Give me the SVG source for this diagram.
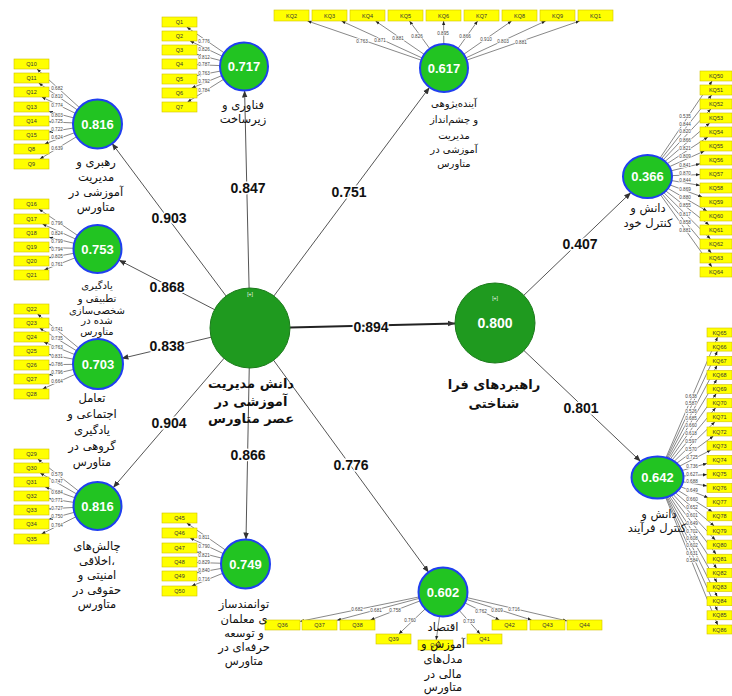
<svg xmlns="http://www.w3.org/2000/svg" width="732" height="696" viewBox="0 0 732 696">
<defs>
<marker id="am" viewBox="0 0 10 10" refX="10" refY="5" markerWidth="4" markerHeight="4" orient="auto" markerUnits="userSpaceOnUse"><path d="M0,1 L10,5 L0,9 z" fill="#222"/></marker>
<marker id="as" viewBox="0 0 10 10" refX="10" refY="5" markerWidth="7" markerHeight="7" orient="auto" markerUnits="userSpaceOnUse"><path d="M0,1 L10,5 L0,9 z" fill="#333"/></marker>
<style>
.ind rect{fill:#ffff00;stroke:#d2c200;stroke-width:0.6}
.ind text{font-family:"Liberation Sans",Arial,sans-serif;font-size:5.5px;fill:#333;text-anchor:middle}
.ml{stroke:#555;stroke-width:0.7;fill:none;marker-end:url(#am)}
.sl{stroke:#555;stroke-width:1;fill:none;marker-end:url(#as)}
.mn{stroke:#222;stroke-width:2;fill:none;marker-end:url(#as)}
.lw{font-family:"Liberation Sans",Arial,sans-serif;font-size:4.6px;fill:#444;text-anchor:middle;paint-order:stroke;stroke:#fff;stroke-width:1.6px}
.pw{font-family:"Liberation Sans",Arial,sans-serif;font-weight:bold;font-size:14px;fill:#111;text-anchor:middle;paint-order:stroke;stroke:#fff;stroke-width:3px}
.lv{fill:#22c422;stroke:#1f3ff0;stroke-width:2}
.cv{fill:#1f9a1f;stroke:#1a7a1a;stroke-width:1}
.val{font-family:"Liberation Sans",Arial,sans-serif;font-weight:bold;font-size:13px;fill:#fff;text-anchor:middle}
.val2{font-family:"Liberation Sans",Arial,sans-serif;font-weight:bold;font-size:14px;fill:#fff;text-anchor:middle}
.plus{font-family:"Liberation Sans",Arial,sans-serif;font-size:5px;fill:#fff;text-anchor:middle}
.lab{font-family:"DejaVu Sans","Noto Sans",sans-serif;font-size:11.5px;fill:#111;text-anchor:middle}
.lab2{font-family:"DejaVu Sans","Noto Sans",sans-serif;font-size:10px;fill:#111;text-anchor:middle}
.labb{font-family:"DejaVu Sans","Noto Sans",sans-serif;font-size:13px;font-weight:bold;fill:#111;text-anchor:middle}
</style>
</defs>
<rect width="732" height="696" fill="#fff"/>
<g id="connectors">
<!-- structural -->
<line class="sl" x1="250" y1="328" x2="244.6" y2="90.5"/>
<line class="sl" x1="250" y1="328" x2="429.6" y2="87.2"/>
<line class="sl" x1="250" y1="328" x2="111.9" y2="143.2"/>
<line class="sl" x1="250" y1="328" x2="118.8" y2="260"/>
<line class="sl" x1="250" y1="328" x2="121.4" y2="358.5"/>
<line class="sl" x1="250" y1="328" x2="113.1" y2="487.8"/>
<line class="sl" x1="250" y1="328" x2="246" y2="539.5"/>
<line class="sl" x1="250" y1="328" x2="428.8" y2="572.6"/>
<line class="mn" x1="290" y1="327.5" x2="455" y2="323.4"/>
<line class="sl" x1="523.8" y1="295.3" x2="631" y2="192.4"/>
<line class="sl" x1="524" y1="350.6" x2="640.7" y2="461.5"/>
<!-- measurement A -->
<path class="ml" d="M244,66.5L186.7,27"/><path class="ml" d="M244,66.5L190.1,41"/><path class="ml" d="M244,66.5L197,54.5"/><path class="ml" d="M244,66.5L197,64.7"/><path class="ml" d="M244,66.5L197,75.6"/><path class="ml" d="M244,66.5L191.7,88"/><path class="ml" d="M244,66.5L187.5,102"/>
<!-- top KQ -->
<path class="ml" d="M444,68L307.5,21"/><path class="ml" d="M444,68L341.5,21"/><path class="ml" d="M444,68L375.5,21"/><path class="ml" d="M444,68L409.5,21"/><path class="ml" d="M444,68L443.6,21"/><path class="ml" d="M444,68L477.6,21"/><path class="ml" d="M444,68L511.6,21"/><path class="ml" d="M444,68L545.6,21"/><path class="ml" d="M444,68L579.6,21"/>
<!-- B -->
<path class="ml" d="M97.5,124L37,69"/><path class="ml" d="M97.5,124L38.7,83"/><path class="ml" d="M97.5,124L41.8,97"/><path class="ml" d="M97.5,124L49,111.5"/><path class="ml" d="M97.5,124L49,121.8"/><path class="ml" d="M97.5,124L49,132.1"/><path class="ml" d="M97.5,124L44.7,144"/><path class="ml" d="M97.5,124L39.8,159"/>
<!-- C -->
<path class="ml" d="M97.5,249L38.8,209"/><path class="ml" d="M97.5,249L42.5,224"/><path class="ml" d="M97.5,249L49,237.2"/><path class="ml" d="M97.5,249L49,247.5"/><path class="ml" d="M97.5,249L49,257.8"/><path class="ml" d="M97.5,249L44.2,270"/>
<!-- D -->
<path class="ml" d="M98,364L37.5,314"/><path class="ml" d="M98,364L39.6,328"/><path class="ml" d="M98,364L43.8,342"/><path class="ml" d="M98,364L49,354.4"/><path class="ml" d="M98,364L49,364.7"/><path class="ml" d="M98,364L49,375"/><path class="ml" d="M98,364L42.6,389"/>
<!-- E -->
<path class="ml" d="M97.5,506L37.8,459"/><path class="ml" d="M97.5,506L40.2,473"/><path class="ml" d="M97.5,506L45.2,487"/><path class="ml" d="M97.5,506L49,498.6"/><path class="ml" d="M97.5,506L49,508.9"/><path class="ml" d="M97.5,506L49,519.2"/><path class="ml" d="M97.5,506L41.5,534"/>
<!-- F -->
<path class="ml" d="M245.5,564L186.7,523"/><path class="ml" d="M245.5,564L190.1,538"/><path class="ml" d="M245.5,564L197,552"/><path class="ml" d="M245.5,564L197,562.5"/><path class="ml" d="M245.5,564L197,572.8"/><path class="ml" d="M245.5,564L191.7,586"/>
<!-- G -->
<path class="ml" d="M443,592L300,621.4"/><path class="ml" d="M443,592L337,620.3"/><path class="ml" d="M443,592L370.5,620"/><path class="ml" d="M443,592L398.8,634"/><path class="ml" d="M443,592L436.2,640"/><path class="ml" d="M443,592L480.1,634"/><path class="ml" d="M443,592L499.4,620"/><path class="ml" d="M443,592L531.6,620"/><path class="ml" d="M443,592L567,620.9"/>
<!-- H -->
<path class="ml" d="M647.5,176.5L712.1,81"/><path class="ml" d="M647.5,176.5L711.6,95"/><path class="ml" d="M647.5,176.5L710.8,109"/><path class="ml" d="M647.5,176.5L709.7,123"/><path class="ml" d="M647.5,176.5L707.9,137"/><path class="ml" d="M647.5,176.5L704.4,151"/><path class="ml" d="M647.5,176.5L700,163.8"/><path class="ml" d="M647.5,176.5L700,174.6"/><path class="ml" d="M647.5,176.5L700,185.4"/><path class="ml" d="M647.5,176.5L702.2,197"/><path class="ml" d="M647.5,176.5L706.9,211"/><path class="ml" d="M647.5,176.5L709.1,225"/><path class="ml" d="M647.5,176.5L710.5,239"/><path class="ml" d="M647.5,176.5L711.3,253"/><path class="ml" d="M647.5,176.5L711.9,267"/>
<!-- I -->
<path class="ml" d="M657.5,477.5L717.6,337"/><path class="ml" d="M657.5,477.5L717.4,351.1"/><path class="ml" d="M657.5,477.5L717.1,365.3"/><path class="ml" d="M657.5,477.5L716.8,379.4"/><path class="ml" d="M657.5,477.5L716.3,393.6"/><path class="ml" d="M657.5,477.5L715.7,407.7"/><path class="ml" d="M657.5,477.5L714.9,421.8"/><path class="ml" d="M657.5,477.5L713.4,436"/><path class="ml" d="M657.5,477.5L710.8,450.1"/><path class="ml" d="M657.5,477.5L707,463.4"/><path class="ml" d="M657.5,477.5L707,474.6"/><path class="ml" d="M657.5,477.5L707,485.9"/><path class="ml" d="M657.5,477.5L708.2,497.7"/><path class="ml" d="M657.5,477.5L712.3,511.8"/><path class="ml" d="M657.5,477.5L714.2,526"/><path class="ml" d="M657.5,477.5L715.3,540.1"/><path class="ml" d="M657.5,477.5L716.1,554.2"/><path class="ml" d="M657.5,477.5L716.6,568.4"/><path class="ml" d="M657.5,477.5L717,582.5"/><path class="ml" d="M657.5,477.5L717.3,596.7"/><path class="ml" d="M657.5,477.5L717.5,610.8"/><path class="ml" d="M657.5,477.5L717.7,625"/>
<!-- loading labels -->
<g class="lw">
<text x="204" y="42.5">0.776</text><text x="204" y="51">0.826</text><text x="204" y="58.5">0.812</text><text x="204" y="66.3">0.787</text><text x="204" y="75">0.763</text><text x="204" y="82.7">0.792</text><text x="204" y="91.7">0.784</text>
<text x="362" y="43.4">0.763</text><text x="380" y="41.7">0.871</text><text x="398" y="40.4">0.881</text><text x="417" y="37.7">0.826</text><text x="443" y="34.7">0.895</text><text x="465" y="37.7">0.866</text><text x="486" y="40.7">0.910</text><text x="503" y="42.7">0.803</text><text x="521" y="44.4">0.881</text>
<text x="57" y="90">0.682</text><text x="57" y="98.4">0.810</text><text x="57" y="106.7">0.774</text><text x="57" y="116.7">0.803</text><text x="57" y="123.4">0.725</text><text x="57" y="130.7">0.722</text><text x="57" y="139.4">0.624</text><text x="57" y="150">0.639</text>
<text x="57" y="225">0.796</text><text x="57" y="235">0.824</text><text x="57" y="242.7">0.799</text><text x="57" y="250.7">0.794</text><text x="57" y="258.4">0.805</text><text x="57" y="265.7">0.761</text>
<text x="57" y="330.7">0.741</text><text x="57" y="340">0.735</text><text x="57" y="349">0.763</text><text x="57" y="357.7">0.831</text><text x="57" y="365.7">0.786</text><text x="57" y="374">0.796</text><text x="57" y="382.7">0.664</text>
<text x="57" y="475.7">0.579</text><text x="57" y="483.4">0.747</text><text x="57" y="494">0.684</text><text x="57" y="501.7">0.771</text><text x="57" y="510">0.727</text><text x="57" y="518.4">0.750</text><text x="57" y="526.7">0.764</text>
<text x="204" y="539">0.811</text><text x="204" y="547.7">0.790</text><text x="204" y="556.7">0.821</text><text x="204" y="564">0.829</text><text x="204" y="572.4">0.840</text><text x="204" y="580.7">0.716</text>
<text x="357" y="610.7">0.682</text><text x="376" y="611.7">0.681</text><text x="395" y="612.4">0.758</text><text x="410" y="622.4">0.760</text><text x="469" y="623.4">0.733</text><text x="481" y="612.7">0.762</text><text x="497" y="611.7">0.809</text><text x="514" y="611">0.716</text>
<text x="685" y="118.4">0.535</text><text x="685" y="125.7">0.844</text><text x="685" y="132.7">0.820</text><text x="685" y="141.7">0.866</text><text x="685" y="150">0.821</text><text x="685" y="158.4">0.809</text><text x="685" y="166.7">0.841</text><text x="685" y="175">0.870</text><text x="685" y="181.7">0.844</text><text x="685" y="190.7">0.869</text><text x="685" y="199">0.880</text><text x="685" y="207.4">0.855</text><text x="685" y="215.7">0.817</text><text x="685" y="224">0.858</text><text x="685" y="231.7">0.881</text>
<text x="691" y="398.4">0.638</text><text x="691" y="405">0.587</text><text x="691" y="412.7">0.526</text><text x="691" y="420">0.685</text><text x="691" y="427.4">0.660</text><text x="691" y="435">0.618</text><text x="691" y="443.4">0.597</text><text x="691" y="450.7">0.570</text><text x="692" y="459.4">0.725</text><text x="692" y="467.7">0.736</text><text x="692" y="476">0.627</text><text x="692" y="483.4">0.688</text><text x="692" y="491.7">0.649</text><text x="692" y="500.7">0.660</text><text x="692" y="509.4">0.652</text><text x="692" y="517.4">0.601</text><text x="692" y="525">0.649</text><text x="692" y="532.7">0.702</text><text x="692" y="540">0.608</text><text x="692" y="546.7">0.602</text><text x="692" y="555">0.631</text><text x="692" y="561.7">0.584</text>
</g>
<!-- path coefficients -->
<text class="pw" x="248" y="193">0.847</text>
<text class="pw" x="349" y="197">0.751</text>
<text class="pw" x="169" y="223">0.903</text>
<text class="pw" x="167" y="292">0.868</text>
<text class="pw" x="167" y="351">0.838</text>
<text class="pw" x="371" y="332">0.894</text>
<text class="pw" x="169" y="428">0.904</text>
<text class="pw" x="248" y="460">0.866</text>
<text class="pw" x="351" y="470">0.776</text>
<text class="pw" x="580" y="249">0.407</text>
<text class="pw" x="581" y="413">0.801</text>
</g>
<!-- indicators -->
<g id="KQ2" class="ind"><rect x="274" y="10" width="35" height="11"/><text x="291.5" y="17.5">KQ2</text></g>
<g id="KQ3" class="ind"><rect x="312" y="10" width="35" height="11"/><text x="329.5" y="17.5">KQ3</text></g>
<g id="KQ4" class="ind"><rect x="350" y="10" width="35" height="11"/><text x="367.5" y="17.5">KQ4</text></g>
<g id="KQ5" class="ind"><rect x="388" y="10" width="35" height="11"/><text x="405.5" y="17.5">KQ5</text></g>
<g id="KQ6" class="ind"><rect x="426" y="10" width="35" height="11"/><text x="443.5" y="17.5">KQ6</text></g>
<g id="KQ7" class="ind"><rect x="464" y="10" width="35" height="11"/><text x="481.5" y="17.5">KQ7</text></g>
<g id="KQ8" class="ind"><rect x="502" y="10" width="35" height="11"/><text x="519.5" y="17.5">KQ8</text></g>
<g id="KQ9" class="ind"><rect x="540" y="10" width="35" height="11"/><text x="557.5" y="17.5">KQ9</text></g>
<g id="KQ1" class="ind"><rect x="578" y="10" width="35" height="11"/><text x="595.5" y="17.5">KQ1</text></g>
<g id="Q1" class="ind"><rect x="162" y="17" width="35" height="10"/><text x="179.5" y="24">Q1</text></g>
<g id="Q2" class="ind"><rect x="162" y="31" width="35" height="10"/><text x="179.5" y="38">Q2</text></g>
<g id="Q3" class="ind"><rect x="162" y="45" width="35" height="10"/><text x="179.5" y="52">Q3</text></g>
<g id="Q4" class="ind"><rect x="162" y="59" width="35" height="10"/><text x="179.5" y="66">Q4</text></g>
<g id="Q5" class="ind"><rect x="162" y="74" width="35" height="10"/><text x="179.5" y="81">Q5</text></g>
<g id="Q6" class="ind"><rect x="162" y="88" width="35" height="10"/><text x="179.5" y="95">Q6</text></g>
<g id="Q7" class="ind"><rect x="162" y="102" width="35" height="10"/><text x="179.5" y="109">Q7</text></g>
<g id="Q10" class="ind"><rect x="14" y="59" width="35" height="10"/><text x="31.5" y="66">Q10</text></g>
<g id="Q11" class="ind"><rect x="14" y="73" width="35" height="10"/><text x="31.5" y="80">Q11</text></g>
<g id="Q12" class="ind"><rect x="14" y="87" width="35" height="10"/><text x="31.5" y="94">Q12</text></g>
<g id="Q13" class="ind"><rect x="14" y="102" width="35" height="10"/><text x="31.5" y="109">Q13</text></g>
<g id="Q14" class="ind"><rect x="14" y="116" width="35" height="10"/><text x="31.5" y="123">Q14</text></g>
<g id="Q15" class="ind"><rect x="14" y="130" width="35" height="10"/><text x="31.5" y="137">Q15</text></g>
<g id="Q8" class="ind"><rect x="14" y="144" width="35" height="10"/><text x="31.5" y="151">Q8</text></g>
<g id="Q9" class="ind"><rect x="14" y="159" width="35" height="10"/><text x="31.5" y="166">Q9</text></g>
<g id="Q16" class="ind"><rect x="14" y="199" width="35" height="10"/><text x="31.5" y="206">Q16</text></g>
<g id="Q17" class="ind"><rect x="14" y="214" width="35" height="10"/><text x="31.5" y="221">Q17</text></g>
<g id="Q18" class="ind"><rect x="14" y="228" width="35" height="10"/><text x="31.5" y="235">Q18</text></g>
<g id="Q19" class="ind"><rect x="14" y="242" width="35" height="10"/><text x="31.5" y="249">Q19</text></g>
<g id="Q20" class="ind"><rect x="14" y="256" width="35" height="10"/><text x="31.5" y="263">Q20</text></g>
<g id="Q21" class="ind"><rect x="14" y="270" width="35" height="10"/><text x="31.5" y="277">Q21</text></g>
<g id="Q22" class="ind"><rect x="14" y="304" width="35" height="10"/><text x="31.5" y="311">Q22</text></g>
<g id="Q23" class="ind"><rect x="14" y="318" width="35" height="10"/><text x="31.5" y="325">Q23</text></g>
<g id="Q24" class="ind"><rect x="14" y="332" width="35" height="10"/><text x="31.5" y="339">Q24</text></g>
<g id="Q25" class="ind"><rect x="14" y="346" width="35" height="10"/><text x="31.5" y="353">Q25</text></g>
<g id="Q26" class="ind"><rect x="14" y="360" width="35" height="10"/><text x="31.5" y="367">Q26</text></g>
<g id="Q27" class="ind"><rect x="14" y="374" width="35" height="10"/><text x="31.5" y="381">Q27</text></g>
<g id="Q28" class="ind"><rect x="14" y="389" width="35" height="10"/><text x="31.5" y="396">Q28</text></g>
<g id="Q29" class="ind"><rect x="14" y="449" width="35" height="10"/><text x="31.5" y="456">Q29</text></g>
<g id="Q30" class="ind"><rect x="14" y="463" width="35" height="10"/><text x="31.5" y="470">Q30</text></g>
<g id="Q31" class="ind"><rect x="14" y="477" width="35" height="10"/><text x="31.5" y="484">Q31</text></g>
<g id="Q32" class="ind"><rect x="14" y="491" width="35" height="10"/><text x="31.5" y="498">Q32</text></g>
<g id="Q33" class="ind"><rect x="14" y="505" width="35" height="10"/><text x="31.5" y="512">Q33</text></g>
<g id="Q34" class="ind"><rect x="14" y="519" width="35" height="10"/><text x="31.5" y="526">Q34</text></g>
<g id="Q35" class="ind"><rect x="14" y="534" width="35" height="10"/><text x="31.5" y="541">Q35</text></g>
<g id="Q45" class="ind"><rect x="162" y="513" width="35" height="10"/><text x="179.5" y="520">Q45</text></g>
<g id="Q46" class="ind"><rect x="162" y="528" width="35" height="10"/><text x="179.5" y="535">Q46</text></g>
<g id="Q47" class="ind"><rect x="162" y="543" width="35" height="10"/><text x="179.5" y="550">Q47</text></g>
<g id="Q48" class="ind"><rect x="162" y="557" width="35" height="10"/><text x="179.5" y="564">Q48</text></g>
<g id="Q49" class="ind"><rect x="162" y="571" width="35" height="10"/><text x="179.5" y="578">Q49</text></g>
<g id="Q50" class="ind"><rect x="162" y="586" width="35" height="10"/><text x="179.5" y="593">Q50</text></g>
<g id="Q36" class="ind"><rect x="265" y="620" width="35" height="10"/><text x="282.5" y="627">Q36</text></g>
<g id="Q37" class="ind"><rect x="302" y="620" width="35" height="10"/><text x="319.5" y="627">Q37</text></g>
<g id="Q38" class="ind"><rect x="340" y="620" width="35" height="10"/><text x="357.5" y="627">Q38</text></g>
<g id="Q39" class="ind"><rect x="376" y="634" width="35" height="10"/><text x="393.5" y="641">Q39</text></g>
<g id="Q40" class="ind"><rect x="418" y="640" width="35" height="10"/><text x="435.5" y="647">Q40</text></g>
<g id="Q41" class="ind"><rect x="467" y="634" width="35" height="10"/><text x="484.5" y="641">Q41</text></g>
<g id="Q42" class="ind"><rect x="492" y="620" width="35" height="10"/><text x="509.5" y="627">Q42</text></g>
<g id="Q43" class="ind"><rect x="530" y="620" width="35" height="10"/><text x="547.5" y="627">Q43</text></g>
<g id="Q44" class="ind"><rect x="567" y="620" width="35" height="10"/><text x="584.5" y="627">Q44</text></g>
<g id="KQ50" class="ind"><rect x="700" y="71" width="32" height="10"/><text x="716" y="78">KQ50</text></g>
<g id="KQ51" class="ind"><rect x="700" y="85" width="32" height="10"/><text x="716" y="92">KQ51</text></g>
<g id="KQ52" class="ind"><rect x="700" y="99" width="32" height="10"/><text x="716" y="106">KQ52</text></g>
<g id="KQ53" class="ind"><rect x="700" y="113" width="32" height="10"/><text x="716" y="120">KQ53</text></g>
<g id="KQ54" class="ind"><rect x="700" y="127" width="32" height="10"/><text x="716" y="134">KQ54</text></g>
<g id="KQ55" class="ind"><rect x="700" y="141" width="32" height="10"/><text x="716" y="148">KQ55</text></g>
<g id="KQ56" class="ind"><rect x="700" y="155" width="32" height="10"/><text x="716" y="162">KQ56</text></g>
<g id="KQ57" class="ind"><rect x="700" y="169" width="32" height="10"/><text x="716" y="176">KQ57</text></g>
<g id="KQ58" class="ind"><rect x="700" y="183" width="32" height="10"/><text x="716" y="190">KQ58</text></g>
<g id="KQ59" class="ind"><rect x="700" y="197" width="32" height="10"/><text x="716" y="204">KQ59</text></g>
<g id="KQ60" class="ind"><rect x="700" y="211" width="32" height="10"/><text x="716" y="218">KQ60</text></g>
<g id="KQ61" class="ind"><rect x="700" y="225" width="32" height="10"/><text x="716" y="232">KQ61</text></g>
<g id="KQ62" class="ind"><rect x="700" y="239" width="32" height="10"/><text x="716" y="246">KQ62</text></g>
<g id="KQ63" class="ind"><rect x="700" y="253" width="32" height="10"/><text x="716" y="260">KQ63</text></g>
<g id="KQ64" class="ind"><rect x="700" y="267" width="32" height="10"/><text x="716" y="274">KQ64</text></g>
<g id="KQ65" class="ind"><rect x="707" y="328" width="25" height="9"/><text x="719.5" y="334.5">KQ65</text></g>
<g id="KQ66" class="ind"><rect x="707" y="342.1" width="25" height="9"/><text x="719.5" y="348.6">KQ66</text></g>
<g id="KQ67" class="ind"><rect x="707" y="356.3" width="25" height="9"/><text x="719.5" y="362.8">KQ67</text></g>
<g id="KQ68" class="ind"><rect x="707" y="370.4" width="25" height="9"/><text x="719.5" y="376.9">KQ68</text></g>
<g id="KQ69" class="ind"><rect x="707" y="384.6" width="25" height="9"/><text x="719.5" y="391.1">KQ69</text></g>
<g id="KQ70" class="ind"><rect x="707" y="398.7" width="25" height="9"/><text x="719.5" y="405.2">KQ70</text></g>
<g id="KQ71" class="ind"><rect x="707" y="412.8" width="25" height="9"/><text x="719.5" y="419.3">KQ71</text></g>
<g id="KQ72" class="ind"><rect x="707" y="427" width="25" height="9"/><text x="719.5" y="433.5">KQ72</text></g>
<g id="KQ73" class="ind"><rect x="707" y="441.1" width="25" height="9"/><text x="719.5" y="447.6">KQ73</text></g>
<g id="KQ74" class="ind"><rect x="707" y="455.3" width="25" height="9"/><text x="719.5" y="461.8">KQ74</text></g>
<g id="KQ75" class="ind"><rect x="707" y="469.4" width="25" height="9"/><text x="719.5" y="475.9">KQ75</text></g>
<g id="KQ76" class="ind"><rect x="707" y="483.5" width="25" height="9"/><text x="719.5" y="490">KQ76</text></g>
<g id="KQ77" class="ind"><rect x="707" y="497.7" width="25" height="9"/><text x="719.5" y="504.2">KQ77</text></g>
<g id="KQ78" class="ind"><rect x="707" y="511.8" width="25" height="9"/><text x="719.5" y="518.3">KQ78</text></g>
<g id="KQ79" class="ind"><rect x="707" y="526" width="25" height="9"/><text x="719.5" y="532.5">KQ79</text></g>
<g id="KQ80" class="ind"><rect x="707" y="540.1" width="25" height="9"/><text x="719.5" y="546.6">KQ80</text></g>
<g id="KQ81" class="ind"><rect x="707" y="554.2" width="25" height="9"/><text x="719.5" y="560.7">KQ81</text></g>
<g id="KQ82" class="ind"><rect x="707" y="568.4" width="25" height="9"/><text x="719.5" y="574.9">KQ82</text></g>
<g id="KQ83" class="ind"><rect x="707" y="582.5" width="25" height="9"/><text x="719.5" y="589">KQ83</text></g>
<g id="KQ84" class="ind"><rect x="707" y="596.7" width="25" height="9"/><text x="719.5" y="603.2">KQ84</text></g>
<g id="KQ85" class="ind"><rect x="707" y="610.8" width="25" height="9"/><text x="719.5" y="617.3">KQ85</text></g>
<g id="KQ86" class="ind"><rect x="707" y="625" width="25" height="9"/><text x="719.5" y="631.5">KQ86</text></g>
<!-- latent variables -->
<g id="n_center"><circle class="cv" cx="250" cy="328" r="40"/><text class="plus" x="250" y="296">[+]</text>
<text class="labb" x="251" y="388">دانش مدیریت</text><text class="labb" x="251" y="406">آموزشی در</text><text class="labb" x="251" y="423">عصر متاورس</text></g>
<g id="n_meta"><circle class="cv" cx="495" cy="323" r="40"/><text class="plus" x="495" y="300">[+]</text><text class="val2" x="495" y="328">0.800</text>
<text class="labb" x="494" y="389">راهبردهای فرا</text><text class="labb" x="494" y="408">شناختی</text></g>
<g id="n_tech"><circle class="lv" cx="244" cy="66.5" r="24"/><text class="val" x="244" y="71">0.717</text>
<text class="lab" x="243" y="109">فناوری و</text><text class="lab" x="243" y="123">زیرساخت</text></g>
<g id="n_future"><circle class="lv" cx="444" cy="68" r="24"/><text class="val" x="444" y="72.5">0.617</text>
<text class="lab2" x="454" y="107">آینده‌پژوهی</text><text class="lab2" x="454" y="123">و چشم‌انداز</text><text class="lab2" x="454" y="138.5">مدیریت</text><text class="lab2" x="454" y="153">آموزشی در</text><text class="lab2" x="454" y="167">متاورس</text></g>
<g id="n_lead"><circle class="lv" cx="97.5" cy="124" r="24.5"/><text class="val" x="97.5" y="128.5">0.816</text>
<text class="lab" x="96" y="166">رهبری و</text><text class="lab" x="96" y="181">مدیریت</text><text class="lab" x="96" y="196">آموزشی در</text><text class="lab" x="96" y="211">متاورس</text></g>
<g id="n_adapt"><circle class="lv" cx="97.5" cy="249" r="24"/><text class="val" x="97.5" y="253.5">0.753</text>
<text class="lab2" x="97" y="288.5">یادگیری</text><text class="lab2" x="97" y="301.5">تطبیقی و</text><text class="lab2" x="97" y="313.5">شخصی‌سازی</text><text class="lab2" x="97" y="324">شده در</text><text class="lab2" x="97" y="335">متاورس</text></g>
<g id="n_social"><circle class="lv" cx="98" cy="364" r="25"/><text class="val" x="98" y="368.5">0.703</text>
<text class="lab" x="92" y="402">تعامل</text><text class="lab" x="92" y="418">اجتماعی و</text><text class="lab" x="92" y="434">یادگیری</text><text class="lab" x="92" y="450">گروهی در</text><text class="lab" x="92" y="466">متاورس</text></g>
<g id="n_ethic"><circle class="lv" cx="97.5" cy="506" r="24"/><text class="val" x="97.5" y="510.5">0.816</text>
<text class="lab" x="97" y="550">چالش‌های</text><text class="lab" x="97" y="564.5">اخلاقی،</text><text class="lab" x="97" y="579">امنیتی و</text><text class="lab" x="97" y="593.5">حقوقی در</text><text class="lab" x="97" y="608">متاورس</text></g>
<g id="n_teacher"><circle class="lv" cx="245.5" cy="564" r="24.5"/><text class="val" x="245.5" y="568.5">0.749</text>
<text class="lab" x="244" y="608">توانمندساز</text><text class="lab" x="244" y="623">ی معلمان</text><text class="lab" x="244" y="637">و توسعه</text><text class="lab" x="244" y="651">حرفه‌ای در</text><text class="lab" x="244" y="665">متاورس</text></g>
<g id="n_econ"><circle class="lv" cx="443" cy="592" r="24.5"/><text class="val" x="443" y="596.5">0.602</text>
<text class="lab" x="443" y="631">اقتصاد</text><text class="lab" x="443" y="648">آموزش و</text><text class="lab" x="443" y="663">مدل‌های</text><text class="lab" x="443" y="678">مالی در</text><text class="lab" x="443" y="691">متاورس</text></g>
<g id="n_self"><ellipse class="lv" cx="647.5" cy="176.5" rx="24.5" ry="21.5"/><text class="val" x="647.5" y="181">0.366</text>
<text class="lab" x="648" y="212">دانش و</text><text class="lab" x="648" y="227">کنترل خود</text></g>
<g id="n_process"><ellipse class="lv" cx="657.5" cy="477.5" rx="26" ry="21"/><text class="val" x="657.5" y="482">0.642</text>
<text class="lab" x="659" y="518">دانش و</text><text class="lab" x="657" y="532">کنترل فرآیند</text></g>
</svg>
